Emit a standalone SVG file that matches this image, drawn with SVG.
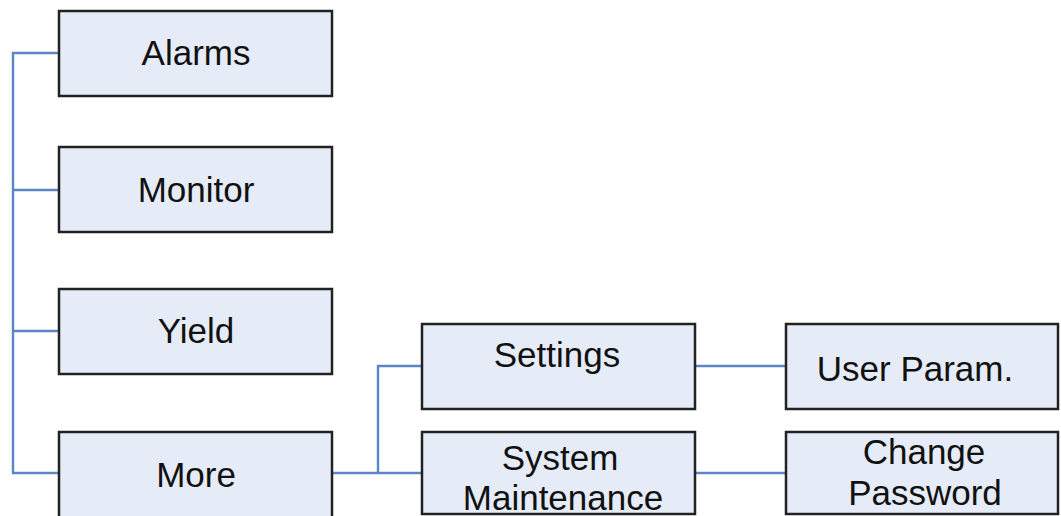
<svg xmlns="http://www.w3.org/2000/svg" width="1061" height="516" viewBox="0 0 1061 516">
<style>
.box{fill:#e6ecf7;stroke:#222;stroke-width:2.5}
.lbl{font-family:"Liberation Sans",Arial,sans-serif;font-size:35px;fill:#111;text-anchor:middle}
.con{fill:none;stroke:#5b86c5;stroke-width:2.4}
</style>
<g id="connectors">
<path class="con" d="M59 53H13V473H59M13 190H59M13 331H59"/>
<path class="con" d="M332 473H422M378 473V366H422"/>
<path class="con" d="M695 366H786M695 473H786"/>
</g>
<g id="alarms"><rect class="box" x="59" y="11" width="273" height="85"/><text class="lbl" x="196" y="65">Alarms</text></g>
<g id="monitor"><rect class="box" x="59" y="147" width="273" height="85"/><text class="lbl" x="196" y="202">Monitor</text></g>
<g id="yield"><rect class="box" x="59" y="289" width="273" height="85"/><text class="lbl" x="196" y="343">Yield</text></g>
<g id="more"><rect class="box" x="59" y="432" width="273" height="90"/><text class="lbl" x="196" y="487">More</text></g>
<g id="settings"><rect class="box" x="422" y="324" width="273" height="85"/><text class="lbl" x="557" y="367">Settings</text></g>
<g id="userparam"><rect class="box" x="786" y="324" width="272" height="85"/><text class="lbl" x="915" y="381">User Param.</text></g>
<g id="sysmaint"><rect class="box" x="422" y="432" width="273" height="82"/><text class="lbl" x="560" y="470">System</text><text class="lbl" x="563" y="510">Maintenance</text></g>
<g id="changepw"><rect class="box" x="786" y="432" width="272" height="82"/><text class="lbl" x="924" y="464">Change</text><text class="lbl" x="925" y="505">Password</text></g>
</svg>
